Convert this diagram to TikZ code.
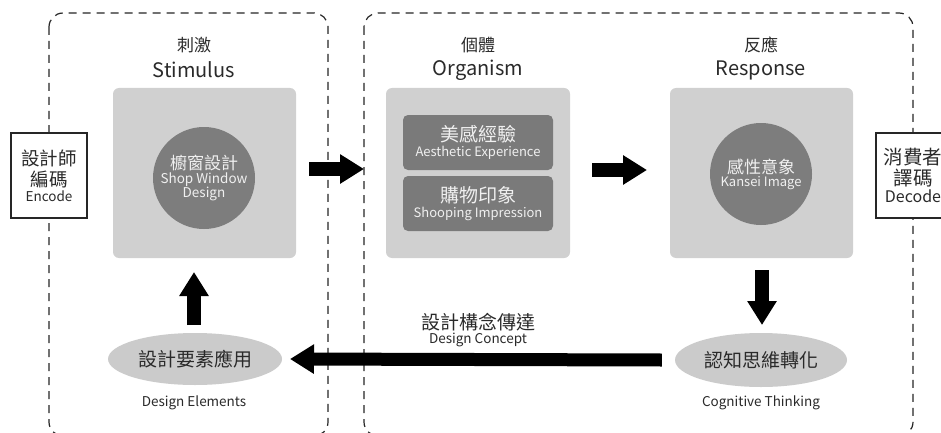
\documentclass[tikz,border=0pt]{standalone}
\usepackage{fontspec}
\setmainfont{Noto Sans CJK TC}
\usetikzlibrary{arrows.meta,shapes.geometric}
\definecolor{boxgrey}{HTML}{D0D0D0}
\definecolor{circgrey}{HTML}{7D7D7D}
\definecolor{innergrey}{HTML}{7A7A7A}
\definecolor{ovalgrey}{HTML}{CBCBCB}
\definecolor{lighttext}{HTML}{F0F0F0}
\definecolor{darktext}{HTML}{2A2A2A}
\newcommand{\fsz}[1]{\fontsize{#1}{#1}\selectfont}
\begin{document}
\begin{tikzpicture}[x=1pt,y=-1pt,
  zone/.style={draw=black!85, dash pattern=on 8pt off 6pt, line width=1.2pt, rounded corners=14pt},
  greybox/.style={fill=boxgrey, rounded corners=6pt, minimum width=183pt, minimum height=170pt, inner sep=0pt},
  darkcirc/.style={circle, fill=circgrey, minimum size=102pt, inner sep=0pt, text=lighttext, align=center},
  innerbox/.style={fill=innergrey, rounded corners=5pt, minimum width=150pt, minimum height=55pt, inner sep=0pt, text=lighttext, align=center},
  oval/.style={ellipse, fill=ovalgrey, minimum width=174pt, minimum height=52pt, inner sep=0pt, text=darktext},
  coder/.style={draw=black!85, fill=white, line width=1.1pt, minimum width=76pt, minimum height=85pt, inner sep=0pt, align=center, text=darktext},
  ttl/.style={text=darktext, inner sep=0pt},
  lbl/.style={text=darktext, inner sep=0pt},
  blockarrow/.style={line width=14pt, -{Triangle[length=24pt,width=28pt]}}
]
\useasboundingbox (0,0) rectangle (941,433);
\fill[white] (0,0) rectangle (941,433);

% dashed zones
\draw[zone] (49,13) rectangle (328,436);
\draw[zone] (364,13) rectangle (913,436);

% encode / decode
\node[coder] (enc) at (49,175.5) {\fsz{18.5}設計師\\[3pt]\fsz{18.5}編碼\\[2pt]\fsz{13.5}Encode};
\node[coder, minimum width=74pt] (dec) at (913,175.5) {\fsz{19.5}消費者\\[2pt]\fsz{19.5}譯碼\\[2pt]\fsz{16}Decode};

% titles
\node[ttl] (t1a) at (194,45) {\fsz{17}刺激};
\node[ttl] (t1b) at (194,70) {\fsz{20}Stimulus};
\node[ttl] (t2a) at (478,45) {\fsz{17}個體};
\node[ttl] (t2b) at (478,70) {\fsz{20}Organism};
\node[ttl] (t3a) at (761,45) {\fsz{17}反應};
\node[ttl] (t3b) at (761,70) {\fsz{20}Response};

% stimulus
\node[greybox] (stim) at (204.5,173) {};
\node[darkcirc] (window) at (204,178) {\fsz{17}櫥窗設計\\[1pt]\fsz{13.5}Shop Window\\[-1pt]\fsz{13.5}Design};

% organism
\node[greybox, minimum width=184pt] (org) at (478,173) {};
\node[innerbox] (aes) at (478,142.5) {\fsz{19}美感經驗\\[3pt]\fsz{13}Aesthetic Experience};
\node[innerbox] (shop) at (478,203.5) {\fsz{19}購物印象\\[3pt]\fsz{13}Shooping Impression};

% response
\node[greybox] (resp) at (761.5,173) {};
\node[darkcirc] (kansei) at (761,174) {\fsz{17}感性意象\\[1pt]\fsz{13}Kansei Image};

% ovals
\node[oval] (elem) at (195,359) {\fsz{19}設計要素應用};
\node[lbl] (elemlbl) at (194,403) {\fsz{13.5}Design Elements};
\node[oval, minimum width=172pt, minimum height=54pt] (cog) at (761,360) {\fsz{19}認知思維轉化};
\node[lbl] (coglbl) at (761,403) {\fsz{13.5}Cognitive Thinking};

% concept label
\node[lbl] (concept) at (478,322) {\fsz{19}設計構念傳達};
\node[lbl] (conceptlbl) at (478,340) {\fsz{13.5}Design Concept};

% arrows
\coordinate (a1s) at (309,169);
\coordinate (a1e) at (364,169);
\draw[blockarrow] (a1s) -- (a1e);
\coordinate (a2s) at (592,170);
\coordinate (a2e) at (647,170);
\draw[blockarrow] (a2s) -- (a2e);
\coordinate (a3s) at (762,270);
\coordinate (a3e) at (762,325);
\draw[blockarrow] (a3s) -- (a3e);
\coordinate (a4s) at (194,325);
\coordinate (a4e) at (194,272);
\draw[blockarrow] (a4s) -- (a4e);
\draw[blockarrow, line width=13pt] (cog.west) ++(-13,0) coordinate (a5s) -- (elem.east -| 290,0) coordinate (a5e);
\end{tikzpicture}
\end{document}
